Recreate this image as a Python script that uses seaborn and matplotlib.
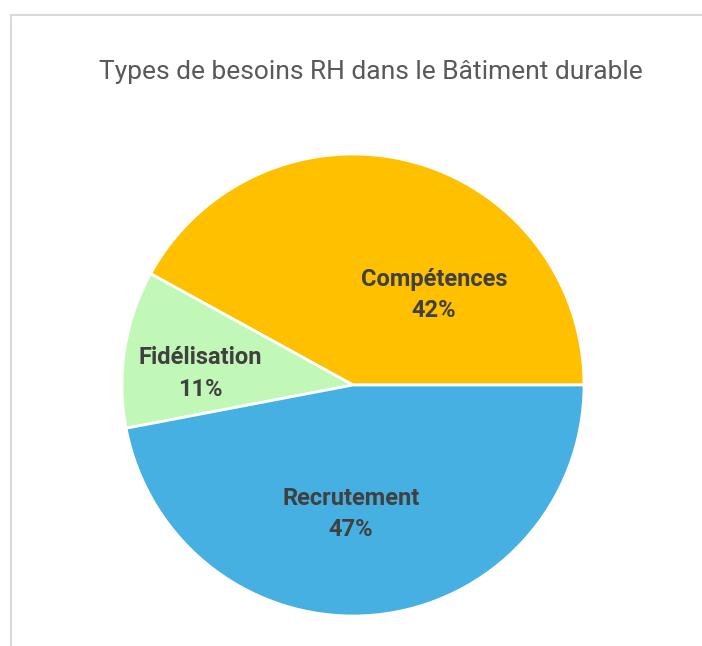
import numpy as np
import matplotlib.pyplot as plt
import seaborn as sns
from matplotlib.lines import Line2D

categories = ["Compétences", "Fidélisation", "Recrutement"]
values = [42, 11, 47]
colors = ["#FFC000", "#C1F8B8", "#45B0E1"]
# label anchor points inside each slice (pie radius = 1)
label_pos = [(0.35, 0.39), (-0.66, 0.05), (-0.01, -0.56)]

sns.set_style("white")
plt.rcParams['font.family'] = ['Roboto', 'DejaVu Sans']

fig = plt.figure(figsize=(7.02, 6.46), dpi=100)
W, H = 702, 646

# light chart-area border (top and left edges visible)
fig.add_artist(Line2D([11 / W, 11 / W], [0, 1 - 15 / H], color="#D9D9D9", lw=1.5))
fig.add_artist(Line2D([11 / W, 1], [1 - 15 / H, 1 - 15 / H], color="#D9D9D9", lw=1.5))

cx, cy, r = 353, 385, 231
ax = fig.add_axes([(cx - r) / W, (H - cy - r) / H, 2 * r / W, 2 * r / H])
ax.pie(values, colors=colors, startangle=0, counterclock=True, radius=1,
       wedgeprops=dict(edgecolor="white", linewidth=2))
ax.set_xlim(-1, 1)
ax.set_ylim(-1, 1)
ax.axis("off")

total = sum(values)
for cat, v, (x, y) in zip(categories, values, label_pos):
    ax.text(x, y, f"{cat}\n{round(100 * v / total)}%", ha="center", va="center",
            fontsize=17, fontweight="bold", color="#404040", linespacing=1.45)

fig.text(371 / W, 1 - 72 / H, "Types de besoins RH dans le Bâtiment durable",
         ha="center", va="center", fontsize=19, color="#595959")

fig.savefig("out.png", dpi=100)
